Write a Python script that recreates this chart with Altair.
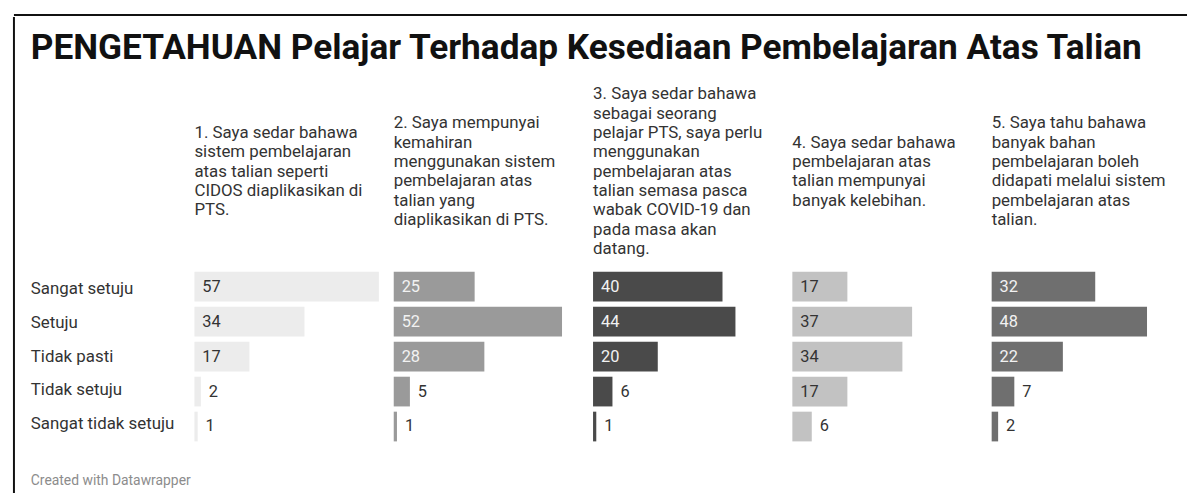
import altair as alt
import pandas as pd

# ---------------- data ----------------
title_text = "PENGETAHUAN Pelajar Terhadap Kesediaan Pembelajaran Atas Talian"
footer_text = "Created with Datawrapper"

categories = ["Sangat setuju", "Setuju", "Tidak pasti", "Tidak setuju", "Sangat tidak setuju"]

header_1 = ["1. Saya sedar bahawa", "sistem pembelajaran", "atas talian seperti",
            "CIDOS diaplikasikan di", "PTS."]
header_2 = ["2. Saya mempunyai", "kemahiran", "menggunakan sistem", "pembelajaran atas",
            "talian yang", "diaplikasikan di PTS."]
header_3 = ["3. Saya sedar bahawa", "sebagai seorang", "pelajar PTS, saya perlu", "menggunakan",
            "pembelajaran atas", "talian semasa pasca", "wabak COVID-19 dan", "pada masa akan",
            "datang."]
header_4 = ["4. Saya sedar bahawa", "pembelajaran atas", "talian mempunyai", "banyak kelebihan."]
header_5 = ["5. Saya tahu bahawa", "banyak bahan", "pembelajaran boleh", "didapati melalui sistem",
            "pembelajaran atas", "talian."]

values_1 = [57, 34, 17, 2, 1]
values_2 = [25, 52, 28, 5, 1]
values_3 = [40, 44, 20, 6, 1]
values_4 = [17, 37, 34, 17, 6]
values_5 = [32, 48, 22, 7, 2]

headers = [header_1, header_2, header_3, header_4, header_5]
values = [values_1, values_2, values_3, values_4, values_5]

# ---------------- styles ----------------
bar_colors = ["#ececec", "#9a9a9a", "#4a4a4a", "#c2c2c2", "#6f6f6f"]
inner_label_colors = ["#333333", "#f2f2f2", "#f2f2f2", "#333333", "#f2f2f2"]
FONT = "Roboto"
TEXT = "#333333"

PW = 188          # panel width
GAP = 13
LABEL_W = 152
BAR_H = 171
TITLE_H = 60
HEADER_H = 197
HEADER_MID = 96
LINE_H = 19.5
FOOTER_H = 52
CONTENT_W = LABEL_W + GAP + 5 * PW + 4 * GAP
CONTENT_H = TITLE_H + HEADER_H + BAR_H + FOOTER_H
XMAX = 57.6
INSIDE_MIN = 10
LABEL_FS = 17
VALUE_FS = 16.5

one = pd.DataFrame({"k": [0]})

# borders
top_border = alt.Chart(one).mark_rule(color="#111111", strokeWidth=2).encode(
    x=alt.value(0), x2=alt.value(1183), y=alt.value(0)
).properties(width=1183, height=1)

left_border = alt.Chart(one).mark_rule(color="#111111", strokeWidth=2).encode(
    x=alt.value(0), y=alt.value(0), y2=alt.value(CONTENT_H)
).properties(width=1, height=CONTENT_H)

# title
title_df = pd.DataFrame({"t": [title_text]})
title_panel = alt.Chart(title_df).mark_text(
    font=FONT, fontSize=35.5, fontWeight="bold", color="#111111", align="left", baseline="middle"
).encode(x=alt.value(0), y=alt.value(31), text="t:N").properties(width=CONTENT_W, height=TITLE_H)

# headers
header_panels = [alt.Chart(one).mark_text(opacity=0, baseline="middle").encode(
    x=alt.value(0), y=alt.value(HEADER_MID), text=alt.value(" ")
).properties(width=LABEL_W, height=HEADER_H)]
for h in headers:
    hdf = pd.DataFrame({"t": ["\n".join(h)]})
    first_line_y = HEADER_MID - (len(h) - 1) * LINE_H / 2
    header_panels.append(
        alt.Chart(hdf).mark_text(
            font=FONT, fontSize=LABEL_FS, color=TEXT, align="left", baseline="middle",
            lineBreak="\n", lineHeight=LINE_H
        ).encode(x=alt.value(0), y=alt.value(first_line_y), text="t:N")
        .properties(width=PW, height=HEADER_H)
    )
header_row = alt.hconcat(*header_panels, spacing=GAP)

# bars
yscale = alt.Scale(domain=categories, paddingInner=0.15, paddingOuter=0)
label_df = pd.DataFrame({"category": categories})
label_panel = alt.Chart(label_df).mark_text(
    font=FONT, fontSize=LABEL_FS, color=TEXT, align="left", baseline="middle"
).encode(
    x=alt.value(0),
    y=alt.Y("category:N", sort=categories, scale=yscale, axis=None),
    text="category:N",
).properties(width=LABEL_W, height=BAR_H)

bar_panels = [label_panel]
for i, vals in enumerate(values):
    df = pd.DataFrame({"category": categories, "value": vals})
    base = alt.Chart(df).encode(
        y=alt.Y("category:N", sort=categories, scale=yscale, axis=None)
    )
    xs = alt.Scale(domain=[0, XMAX], nice=False)
    bars = base.mark_bar(color=bar_colors[i]).encode(
        x=alt.X("value:Q", scale=xs, axis=None)
    )
    inside = base.transform_filter(alt.datum.value >= INSIDE_MIN).transform_calculate(
        zero="0"
    ).mark_text(
        font=FONT, fontSize=VALUE_FS, color=inner_label_colors[i], align="left", baseline="middle", dx=8
    ).encode(x=alt.X("zero:Q", scale=xs, axis=None), text="value:Q")
    outside = base.transform_filter(alt.datum.value < INSIDE_MIN).mark_text(
        font=FONT, fontSize=VALUE_FS, color=TEXT, align="left", baseline="middle", dx=8
    ).encode(x=alt.X("value:Q", scale=xs, axis=None), text="value:Q")
    bar_panels.append(alt.layer(bars, inside, outside).properties(width=PW, height=BAR_H))
bar_row = alt.hconcat(*bar_panels, spacing=GAP)

# footer
footer_df = pd.DataFrame({"t": [footer_text]})
footer_panel = alt.Chart(footer_df).mark_text(
    font=FONT, fontSize=14, color="#8c8c8c", align="left", baseline="middle"
).encode(x=alt.value(0), y=alt.value(40), text="t:N").properties(width=CONTENT_W, height=FOOTER_H)

content = alt.vconcat(title_panel, header_row, bar_row, footer_panel, spacing=0)

chart = alt.vconcat(
    top_border,
    alt.hconcat(left_border, content, spacing=16),
    spacing=0,
).properties(
    padding={"left": 5, "top": 4, "right": 0, "bottom": 0},
    background="white",
).configure_view(stroke=None)

chart.save("out.html", embed_options={"renderer": "svg", "actions": False})
